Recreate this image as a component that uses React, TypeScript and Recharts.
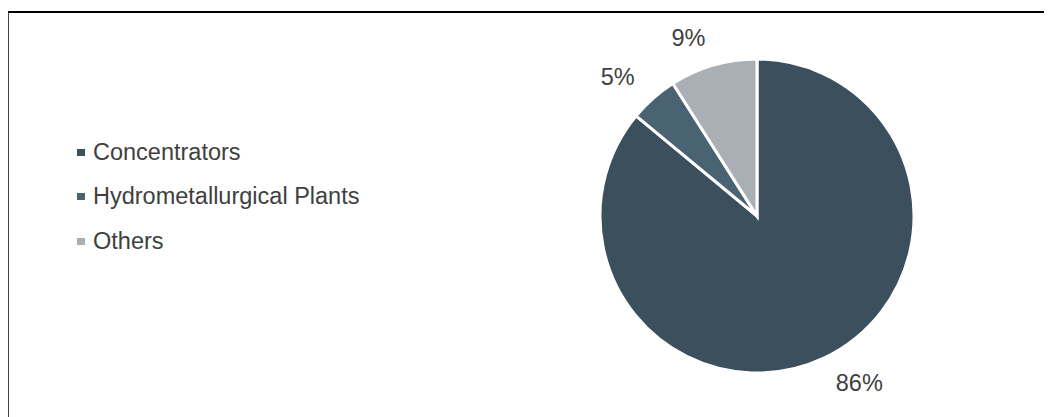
import { PieChart, Pie, Cell } from "recharts";

const categories = ["Concentrators", "Hydrometallurgical Plants", "Others"];
const shares = [86, 5, 9];
const colors = ["#3B4F5D", "#4A6373", "#A9AFB5"];

const data = categories.map((name, i) => ({ name, value: shares[i] }));

const FONT = '"Liberation Sans", Arial, sans-serif';
const TEXT = "#404040";
const RAD = Math.PI / 180;

function renderLabel(props: any) {
  const { cx, cy, midAngle, outerRadius, value } = props;
  const r = outerRadius + 28;
  const x = cx + r * Math.cos(-midAngle * RAD);
  const y = cy + r * Math.sin(-midAngle * RAD);
  return (
    <text
      x={x}
      y={y}
      fill={TEXT}
      fontSize={23.5}
      fontFamily={FONT}
      textAnchor={x >= cx ? "start" : "end"}
      dominantBaseline="central"
    >
      {`${value}%`}
    </text>
  );
}

function ChartLegend() {
  return (
    <div
      style={{
        position: "absolute",
        left: 69,
        top: 122,
        fontFamily: FONT,
        fontSize: 23.5,
        color: TEXT,
      }}
    >
      {data.map((d, i) => (
        <div key={d.name} style={{ display: "flex", alignItems: "center", height: 44.5 }}>
          <span
            style={{
              display: "inline-block",
              width: 8,
              height: 7,
              background: colors[i],
              marginRight: 8,
            }}
          />
          <span>{d.name}</span>
        </div>
      ))}
    </div>
  );
}

export default function App() {
  return (
    <div style={{ position: "relative", width: 1044, height: 409 }}>
      <div
        style={{
          position: "absolute",
          left: -1,
          top: 3,
          width: 1060,
          height: 430,
          borderTop: "2px solid #000",
          borderLeft: "2px solid #444",
          boxSizing: "border-box",
        }}
      />
      <ChartLegend />
      <div style={{ position: "absolute", left: 0, top: 0 }}>
        <PieChart width={1044} height={409} margin={{ top: 0, right: 0, bottom: 0, left: 0 }}>
          <Pie
            data={data}
            dataKey="value"
            nameKey="name"
            cx={749}
            cy={208}
            outerRadius={157}
            startAngle={90}
            endAngle={-270}
            stroke="#fff"
            strokeWidth={3}
            label={renderLabel}
            labelLine={false}
            isAnimationActive={false}
          >
            {data.map((d, i) => (
              <Cell key={d.name} fill={colors[i]} />
            ))}
          </Pie>
        </PieChart>
      </div>
    </div>
  );
}
